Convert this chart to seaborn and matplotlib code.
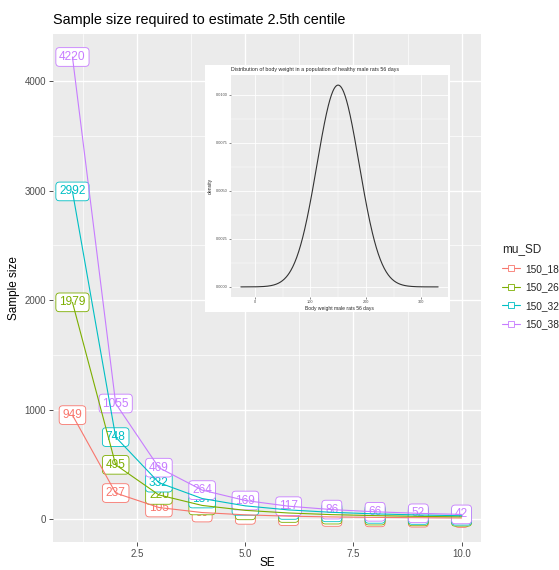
import numpy as np
import pandas as pd
import matplotlib
matplotlib.use("Agg")
import matplotlib.pyplot as plt
from matplotlib.lines import Line2D
from matplotlib.ticker import MultipleLocator, FuncFormatter
import seaborn as sns

# ---------------- data ----------------
se_values = [1, 2, 3, 4, 5, 6, 7, 8, 9, 10]
groups = ["150_18", "150_26", "150_32", "150_38"]
n_150_18 = [949, 237, 105, 59, 38, 26, 19, 15, 12, 9]
n_150_26 = [1979, 495, 220, 124, 79, 55, 40, 31, 24, 20]
n_150_32 = [2992, 748, 332, 187, 120, 83, 61, 47, 37, 30]
n_150_38 = [4220, 1055, 469, 264, 169, 117, 86, 66, 52, 42]
colors = ["#F8766D", "#7CAE00", "#00BFC4", "#C77CFF"]

# inset: normal density of body weight
inset_mu = 150
inset_sd = 38
inset_x_min = -25
inset_x_max = 330

title = "Sample size required to estimate 2.5th centile"
inset_title = "Distribution of body weight in a population of healthy male rats 56 days"

rows = []
for g, vals in zip(groups, [n_150_18, n_150_26, n_150_32, n_150_38]):
    for s, v in zip(se_values, vals):
        rows.append({"SE": s, "n": v, "mu_SD": g})
df = pd.DataFrame(rows)

xs = np.linspace(inset_x_min, inset_x_max, 400)
dens = np.exp(-0.5 * ((xs - inset_mu) / inset_sd) ** 2) / (inset_sd * np.sqrt(2 * np.pi))
df_dens = pd.DataFrame({"x": xs, "density": dens})

# ---------------- style ----------------
sns.set_theme(style="darkgrid")
plt.rcParams["font.family"] = ["Liberation Sans", "DejaVu Sans"]
plt.rcParams["axes.facecolor"] = "#EBEBEB"
plt.rcParams["grid.color"] = "white"

W, H = 559, 570
fig = plt.figure(figsize=(W / 100, H / 100), dpi=100)
fig.patch.set_facecolor("white")

def fx(px):
    return px / W

def fy(py):
    return 1 - py / H

ax = fig.add_axes([fx(53), fy(542), fx(481) - fx(53), fy(34) - fy(542)])
ax.set_facecolor("#EBEBEB")

palette = dict(zip(groups, colors))
# labels (under lines)
for _, r in df.iterrows():
    c = palette[r["mu_SD"]]
    ax.text(r["SE"], r["n"], str(int(r["n"])), ha="center", va="center",
            color=c, fontsize=8.6, zorder=2,
            bbox=dict(boxstyle="round,pad=0.28,rounding_size=0.3", fc="white",
                      ec=c, lw=0.6))
sns.lineplot(data=df, x="SE", y="n", hue="mu_SD", palette=palette, ax=ax,
             lw=0.8, legend=False, zorder=3)

ax.set_xlim(0.55, 10.45)
ax.set_ylim(-210, 4430)
ax.xaxis.set_major_locator(MultipleLocator(2.5))
ax.xaxis.set_minor_locator(MultipleLocator(1.25))
ax.yaxis.set_major_locator(MultipleLocator(1000))
ax.yaxis.set_minor_locator(MultipleLocator(500))
ax.xaxis.set_major_formatter(FuncFormatter(lambda v, p: f"{v:.1f}"))
ax.grid(which="major", color="white", lw=1.0)
ax.grid(which="minor", color="white", lw=0.5)
for s in ax.spines.values():
    s.set_visible(False)
ax.tick_params(which="major", length=3, width=0.6, color="#333333",
               labelsize=7, labelcolor="#4D4D4D", pad=2, bottom=True, left=True)
ax.tick_params(which="minor", length=0)
ax.set_xlabel("SE", fontsize=8.5, color="black", va="center")
ax.set_ylabel("Sample size", fontsize=8.5, color="black", labelpad=3)
ax.xaxis.set_label_coords(0.5, -0.041)
ax.set_title(title, loc="left", fontsize=10.4, color="black", pad=7)

handles = [Line2D([0], [0], color=c, lw=0.8, marker="s", markersize=4,
                  markerfacecolor="white", markeredgecolor=c, markeredgewidth=0.6)
           for c in colors]
leg = fig.legend(handles, groups, title="mu_SD", loc="upper left",
                 bbox_to_anchor=(fx(493), fy(234)), frameon=False,
                 fontsize=7.3, title_fontsize=8.5, handlelength=1.8,
                 labelspacing=0.85, alignment="left", handletextpad=0.5)

# ---------------- inset ----------------
bg = fig.add_axes([fx(205), fy(312), fx(450) - fx(205), fy(65) - fy(312)])
bg.set_facecolor("white")
bg.set_xticks([])
bg.set_yticks([])
bg.grid(False)
for s in bg.spines.values():
    s.set_visible(False)

iax = fig.add_axes([fx(231), fy(297), fx(448) - fx(231), fy(75) - fy(297)])
iax.set_facecolor("#EBEBEB")
sns.lineplot(data=df_dens, x="x", y="density", ax=iax, color="#333333", lw=0.8)
span = inset_x_max - inset_x_min
iax.set_xlim(inset_x_min - 0.05 * span, inset_x_max + 0.05 * span)
ymax = dens.max()
iax.set_ylim(-0.05 * ymax, 1.05 * ymax)
iax.xaxis.set_major_locator(MultipleLocator(100))
iax.xaxis.set_minor_locator(MultipleLocator(50))
iax.yaxis.set_major_locator(MultipleLocator(0.0025))
iax.yaxis.set_minor_locator(MultipleLocator(0.00125))
iax.yaxis.set_major_formatter(FuncFormatter(lambda v, p: f"{v:.4f}"))
iax.xaxis.set_major_formatter(FuncFormatter(lambda v, p: f"{v:.0f}"))
iax.grid(which="major", color="white", lw=0.6)
iax.grid(which="minor", color="white", lw=0.3)
for s in iax.spines.values():
    s.set_visible(False)
iax.tick_params(which="major", length=1.5, width=0.4, color="#333333",
                labelsize=2.8, labelcolor="#4D4D4D", pad=1, bottom=True, left=True)
iax.tick_params(which="minor", length=0)
iax.set_xlabel("Body weight male rats 56 days", fontsize=3.6, labelpad=1)
iax.set_ylabel("density", fontsize=3.6, labelpad=2)
iax.set_title(inset_title, loc="left", fontsize=3.8, pad=3)

fig.savefig("out.png", dpi=100, facecolor="white")
